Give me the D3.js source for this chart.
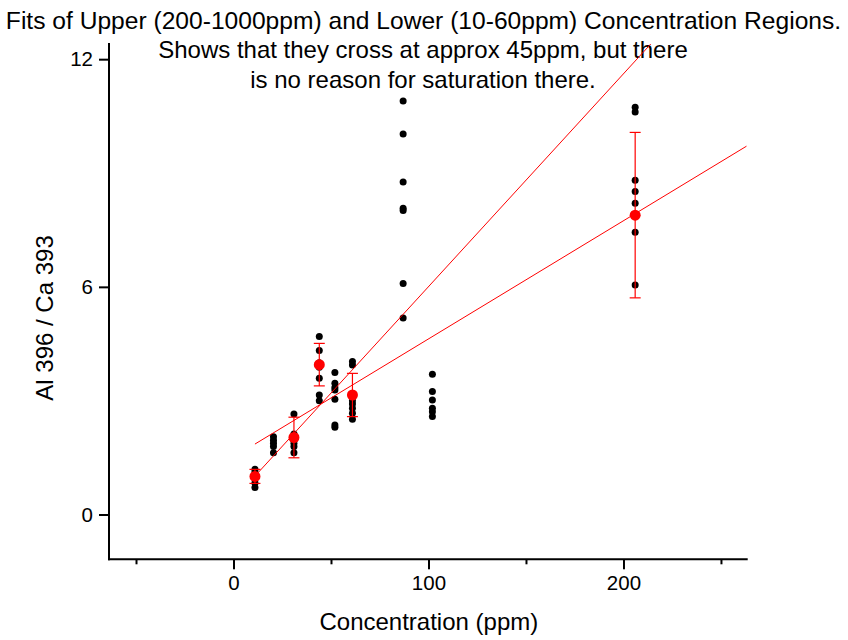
<!DOCTYPE html>
<html>
<head>
<meta charset="utf-8">
<script src="https://cdn.jsdelivr.net/npm/d3@7"></script>
<style>
  html, body { margin: 0; padding: 0; background: #fff; }
  svg { display: block; font-family: "Liberation Sans", Arial, sans-serif; }
</style>
</head>
<body>
<svg id="chart" width="848" height="640"></svg>
<script>
// ---- data ----
const titleLines = [
  "Fits of Upper (200-1000ppm) and Lower (10-60ppm) Concentration Regions.",
  "Shows that they cross at approx 45ppm, but there",
  "is no reason for saturation there."
];
const xLabel = "Concentration (ppm)";
const yLabel = "Al 396 / Ca 393";
const xMajorTicks = [0, 100, 200];
const xMinorTicks = [-50, 50, 150, 250];
const yTicks = [0, 6, 12];

const concentrations = [11, 20.5, 31, 44, 52, 61, 87, 102, 206];
const replicateValues = [
  [1.19, 1.12, 1.05, 0.95, 0.83, 0.71],
  [2.05, 1.96, 1.88, 1.79, 1.63],
  [2.65, 2.12, 2.04, 1.96, 1.88, 1.79, 1.63],
  [4.69, 4.32, 4.00, 3.88, 3.59, 3.15, 3.00],
  [3.74, 3.46, 3.35, 3.28, 3.04, 2.36, 2.30],
  [4.03, 3.94, 3.00, 2.91, 2.80, 2.67, 2.51],
  [10.90, 10.03, 8.76, 8.07, 8.01, 6.09, 5.18],
  [3.70, 3.24, 3.02, 2.80, 2.71, 2.58],
  [10.73, 10.61, 8.81, 8.51, 8.20, 7.89, 7.44, 6.05]
];
const meanConc = [11, 31, 44, 61, 206];
const meanValues = [1.005, 2.03, 3.95, 3.15, 7.89];
const meanErrors = [0.185, 0.535, 0.56, 0.57, 2.18];

const fitNames = ["Lower (10-60ppm)", "Upper (200-1000ppm)"];
const fitSlopes = [0.0561, 0.03114];
const fitIntercepts = [0.395, 1.514];
const fitStart = [11, 11];

// ---- layout ----
const svg = d3.select("#chart");
const pLeft = 109, pRight = 746.7, pTop = 44, pBottom = 559.3;
const x = d3.scaleLinear().domain([-63.85, 263.2]).range([pLeft, pRight]);
const y = d3.scaleLinear().domain([-1.18, 12.4]).range([pBottom, pTop]);

// title
svg.append("g").selectAll("text").data(titleLines).join("text")
  .attr("x", (d, i) => i === 0 ? 423.5 : 423)
  .attr("y", (d, i) => 29 + i * 29.3)
  .attr("text-anchor", "middle")
  .attr("font-size", (d, i) => i === 0 ? 24.6 : 24)
  .attr("fill", "#000")
  .text(d => d);

// clip
svg.append("defs").append("clipPath").attr("id", "plotclip")
  .append("rect").attr("x", pLeft).attr("y", pTop)
  .attr("width", pRight - pLeft).attr("height", pBottom - pTop);

// black replicate points
const pts = [];
concentrations.forEach((c, i) => replicateValues[i].forEach(v => pts.push([c, v])));
svg.append("g").selectAll("circle").data(pts).join("circle")
  .attr("cx", d => x(d[0])).attr("cy", d => y(d[1]))
  .attr("r", 3.5).attr("fill", "#000");

// fit lines
const fits = fitSlopes.map((s, i) => {
  const x0 = fitStart[i], x1 = x.domain()[1];
  return [[x0, fitIntercepts[i] + s * x0], [x1, fitIntercepts[i] + s * x1]];
});
svg.append("g").attr("clip-path", "url(#plotclip)")
  .selectAll("path").data(fits).join("path")
  .attr("d", d3.line().x(d => x(d[0])).y(d => y(d[1])))
  .attr("stroke", "#ff0000").attr("stroke-width", 1).attr("fill", "none");

// error bars
const eb = svg.append("g").attr("stroke", "#ff0000").attr("stroke-width", 1.2);
meanConc.forEach((c, i) => {
  const cx = x(c), yt = y(meanValues[i] + meanErrors[i]), yb = y(meanValues[i] - meanErrors[i]);
  eb.append("line").attr("x1", cx).attr("x2", cx).attr("y1", yt).attr("y2", yb);
  eb.append("line").attr("x1", cx - 5.5).attr("x2", cx + 5.5).attr("y1", yt).attr("y2", yt);
  eb.append("line").attr("x1", cx - 5.5).attr("x2", cx + 5.5).attr("y1", yb).attr("y2", yb);
});
svg.append("g").selectAll("circle").data(meanConc).join("circle")
  .attr("cx", d => x(d)).attr("cy", (d, i) => y(meanValues[i]))
  .attr("r", 5.5).attr("fill", "#ff0000");

// axes
const xAxisMajor = svg.append("g").attr("transform", `translate(0,${pBottom})`)
  .call(d3.axisBottom(x).tickValues(xMajorTicks).tickSize(10).tickPadding(6).tickFormat(d3.format("d")));
const xAxisMinor = svg.append("g").attr("transform", `translate(0,${pBottom})`)
  .call(d3.axisBottom(x).tickValues(xMinorTicks).tickSize(5).tickFormat(""));
const yAxis = svg.append("g").attr("transform", `translate(${pLeft},0)`)
  .call(d3.axisLeft(y).tickValues(yTicks).tickSize(10).tickPadding(6).tickFormat(d3.format("d")));
[xAxisMajor, xAxisMinor, yAxis].forEach(g => {
  g.select(".domain").remove();
  g.selectAll(".tick line").attr("stroke", "#000").attr("stroke-width", 2);
  g.selectAll(".tick text").attr("fill", "#000").attr("font-size", 20.5)
    .attr("font-family", "Liberation Sans, Arial, sans-serif");
});
svg.append("line").attr("x1", pLeft).attr("x2", pRight).attr("y1", pBottom).attr("y2", pBottom)
  .attr("stroke", "#000").attr("stroke-width", 2).attr("stroke-linecap", "square");
svg.append("line").attr("x1", pLeft).attr("x2", pLeft).attr("y1", pTop).attr("y2", pBottom)
  .attr("stroke", "#000").attr("stroke-width", 2).attr("stroke-linecap", "square");

// axis titles
svg.append("text").attr("x", (pLeft + pRight) / 2 + 1).attr("y", 630)
  .attr("text-anchor", "middle").attr("font-size", 24).attr("fill", "#000").text(xLabel);
svg.append("text").attr("transform", "translate(53,318) rotate(-90)")
  .attr("text-anchor", "middle").attr("font-size", 24).attr("fill", "#000").text(yLabel);
</script>
</body>
</html>
